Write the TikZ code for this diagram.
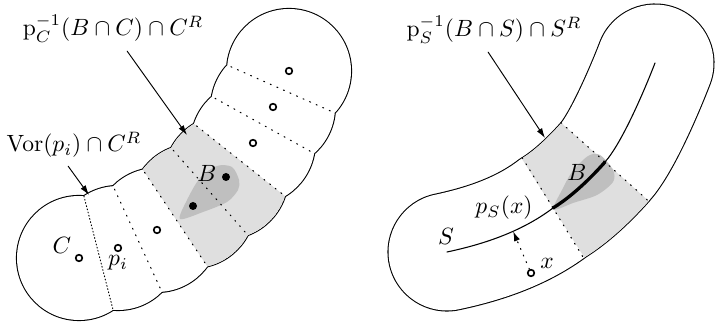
\documentclass[tikz,border=0pt]{standalone}
\usepackage{amsmath,amssymb}
\usetikzlibrary{arrows.meta,calc}

\begin{document}
\begin{tikzpicture}[x=0.425pt,y=-0.425pt,line cap=round,
  >={Latex[length=4.2pt,width=2.6pt]},
  rim/.style={line width=0.9pt},
  vor/.style={dash pattern=on 0.45pt off 2.6pt,line width=0.45pt},
  site/.style={draw,fill=white,line width=0.7pt,circle,inner sep=0pt,minimum size=2.8pt},
  hit/.style={fill,circle,inner sep=0pt,minimum size=3.4pt}]
\useasboundingbox (0,0) rectangle (715,329);
\def\rr{26.35pt}% disk radius (62)
\foreach \n/\a/\b in {1/79/258,2/118/248,3/157/230,4/193/206,5/226/177,6/253/143,7/273/107,8/289/71}
  \coordinate (s\n) at (\a,\b);
% left: union of the disks round C
\draw[rim] \foreach \n in {1,...,8}{(s\n) circle (62)};
\fill[white] \foreach \n in {1,...,8}{(s\n) circle (62)};
\begin{scope}
\clip \foreach \n in {1,...,8}{(s\n) circle (62)};
\begin{scope}
\clip ($(s3)!.5!(s4)!45pt!90:(s4)$) -- ($(s3)!.5!(s4)!45pt!-90:(s4)$)
   -- ($(s5)!.5!(s6)!45pt!-90:(s6)$) -- ($(s5)!.5!(s6)!45pt!90:(s6)$) -- cycle;
\fill[gray!25] (s4) circle (62) (s5) circle (62);
\end{scope}
\fill[gray!50] plot[smooth cycle] coordinates {(180,219) (187,200) (200,178) (217,166) (232,167) (239,180) (238,190) (227,202) (203,212)};
\draw[densely dotted,line width=0.4pt] ($(s1)!.5!(s2)!\rr!90:(s2)$) -- ($(s1)!.5!(s2)!\rr!-90:(s2)$);
\foreach \i/\j in {2/3,3/4,4/5,5/6,6/7,7/8}
  \draw[vor] ($(s\i)!.5!(s\j)!\rr!90:(s\j)$) -- ($(s\i)!.5!(s\j)!\rr!-90:(s\j)$);
\end{scope}
\foreach \n in {1,2,3,6,7,8} \node[site] (o\n) at (s\n) {};
\foreach \n in {4,5} \node[hit] (o\n) at (s\n) {};
\node (lC) at (62,245) {$C$};
\node (lpi) at (118,263) {$p_i$};
\node (lB) at (207,173) {$B$};
\node (lcell) at (113,29) {$\mathrm{p}_C^{-1}(B\cap C)\cap C^R$};
\node (lvor) at (74,145) {$\mathrm{Vor}(p_i)\cap C^R$};
\coordinate (tcell) at (187,135);
\coordinate (tvor) at (89,195);
\draw[->] ([xshift=6pt]lcell.south) -- (tcell);
\draw[->] ([xshift=-2.5pt]lvor.south) -- (tvor);
% right: tube round S
\coordinate (A) at (447,252); \coordinate (A1) at (480,245);
\coordinate (P0) at (520,233); \coordinate (P) at (553,208); \coordinate (P1) at (571,197);
\coordinate (Q0) at (590,179); \coordinate (Q) at (605,162); \coordinate (Q1) at (622,143);
\coordinate (E0) at (645,89); \coordinate (E) at (655,63);
\def\Spath{(A) .. controls (A1) and (P0) .. (P) .. controls (P1) and (Q0) .. (Q) .. controls (Q1) and (E0) .. (E)}
\draw[line width=50.6pt] \Spath;
\draw[white,line width=49.7pt] \Spath;
\draw[gray!25,line width=49.7pt,line cap=butt] (P) .. controls (P1) and (Q0) .. (Q);
\fill[gray!50] plot[smooth cycle] coordinates {(553,208) (562,190) (572,172) (588,156) (600,155) (613,170) (613,182) (597,195) (573,203) (558,209)};
\draw[vor] ($(P)!25.1pt!90:(P1)$) -- ($(P)!25.1pt!-90:(P1)$);
\draw[vor] ($(Q)!25.1pt!90:(Q1)$) -- ($(Q)!25.1pt!-90:(Q1)$);
\draw[line width=0.45pt] \Spath;
\draw[line width=1.4pt] (P) .. controls (P1) and (Q0) .. (Q);
\path (A) .. controls (A1) and (P0) .. (P) coordinate[pos=.62] (tx);
\node[site] (ox) at (531,273) {};
\draw[vor,->] (ox) -- (tx);
\node (lx) at (547,263) {$x$};
\node (lS) at (446,236) {$S$};
\node (lps) at (504,208) {$p_S(x)$};
\node (lB2) at (577,172) {$B$};
\node (lstrip) at (494,30) {$\mathrm{p}_S^{-1}(B\cap S)\cap S^R$};
\coordinate (tstrip) at (545,138);
\draw[->] ([xshift=-2.5pt]lstrip.south) -- (tstrip);
\end{tikzpicture}
\end{document}
